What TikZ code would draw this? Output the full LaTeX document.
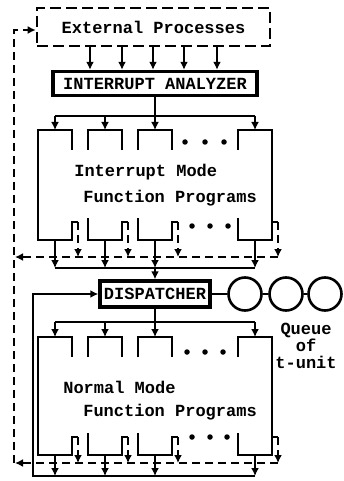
\documentclass[tikz,border=0pt]{standalone}
\usepackage{fontspec}
\setmonofont{Liberation Mono}
\usetikzlibrary{arrows.meta}
\tikzset{sc/.style={x=1pt,y=-1pt,line width=2.6pt,font=\ttfamily\bfseries\fontsize{17}{17}\selectfont},
  arr/.style={-{Latex[length=8pt,width=8pt]}},
  dsh/.style={dash pattern=on 8pt off 5pt},
  bx/.style={draw,line width=3.4pt,inner sep=0pt,minimum height=24pt},
  lbl/.style={inner sep=0pt,anchor=west},
  dotn/.style={circle,fill,inner sep=0pt,minimum size=5.5pt},
  que/.style={circle,draw,inner sep=0pt,minimum size=33pt}}
\begin{document}
\begin{tikzpicture}[sc]
  \useasboundingbox (0,0) rectangle (344,481);
  \node[draw,dash pattern=on 11pt off 5pt,minimum width=233pt,minimum height=38pt,inner sep=0pt] (ext) at (153.5,27){External Processes};
  \node[bx,minimum width=204pt] (ia) at (155,83.5){INTERRUPT ANALYZER};
  \foreach \x in {90,122,153,184,217}\draw[arr] (ext.south -| \x,0)--(ia.north -| \x,0);
  % interrupt mode programs
  \foreach \l/\r [count=\i] in {38/72,88/122,138/172,238/272}{
    \coordinate (it\i) at ({(\l+\r)/2},130); \coordinate (ib\i) at ({(\l+\r)/2},240);
    \draw (\l,150)--(\l,130)--(\r,130)--(\r,150);
    \draw (\l,218)--(\l,240)--(\r,240)--(\r,222)--++(6,0) coordinate (ih\i);}
  \draw (38,150)--(38,218) (272,150)--(272,222);
  \foreach \x in {185,205,224}\node[dotn] (itd\x) at (\x,142){};
  \foreach \x in {192,210,228}\node[dotn] (ibd\x) at (\x,226){};
  \node[lbl] (imode) at (73,172){Interrupt Mode};
  \node[lbl] (ifunc) at (82,198){Function Programs};
  \coordinate (ibus) at (ia.south |- 0,116);
  \draw (ia.south)--(ibus) (it1 |- ibus)--(it4 |- ibus);
  \foreach \i in {1,...,4}\draw[arr] (it\i |- ibus)--(it\i);
  % dispatcher and queue
  \node[bx,minimum width=110pt,minimum height=26pt] (dp) at (155,294){DISPATCHER};
  \coordinate (dbus) at (dp.north |- 0,268);
  \draw (ib1 |- dbus)--(ib4 |- dbus);
  \foreach \i in {1,...,4}\draw[arr] (ib\i)--(ib\i |- dbus);
  \draw[arr] (dbus)--(dp.north);
  \node[que] (q1) at (245,294){}; \node[que] (q2) at (286,294){}; \node[que] (q3) at (325,294){};
  \draw (dp)--(q1) (q1)--(q2) (q2)--(q3);
  \node[align=center,inner sep=0pt] (qlbl) at (306,346){Queue\\of\\t-unit};
  % normal mode programs
  \coordinate (nbusT) at (dp.south |- 0,322);
  \draw (dp.south)--(nbusT);
  \foreach \l/\r [count=\i] in {38/72,88/122,138/172,238/272}{
    \coordinate (nt\i) at ({(\l+\r)/2},337); \coordinate (nb\i) at ({(\l+\r)/2},455);
    \draw (\l,357)--(\l,337)--(\r,337)--(\r,357);
    \draw (\l,433)--(\l,455)--(\r,455)--(\r,437)--++(6,0) coordinate (nh\i);}
  \draw (38,357)--(38,433) (272,357)--(272,437);
  \draw (nt1 |- nbusT)--(nt4 |- nbusT);
  \foreach \i in {1,...,4}\draw[arr] (nt\i |- nbusT)--(nt\i);
  \foreach \x in {187,205,223}\node[dotn] (ntd\x) at (\x,352){};
  \foreach \x in {192,210,227}\node[dotn] (nbd\x) at (\x,437){};
  \node[lbl] (nmode) at (62,387){Normal Mode};
  \node[lbl] (nfunc) at (82,412){Function Programs};
  \coordinate (nbus) at (33,476);
  \foreach \i in {1,...,4}\draw[arr] (nb\i)--(nb\i |- nbus);
  \draw[arr] (nb4 |- nbus)--(nbus)|-(dp.west);
  % dashed returns to the external processes
  \coordinate (iret) at (15,257); \coordinate (nret) at (15,463);
  \foreach \i in {1,...,4}\draw[dsh,arr] (ih\i)--(ih\i |- iret);
  \draw[dsh,arr] (ih4 |- iret)--(iret);
  \foreach \i in {1,...,4}\draw[dsh,arr] (nh\i)--(nh\i |- nret);
  \draw[dsh,arr] (nh4 |- nret)--(nret);
  \coordinate (lbot) at (14,463); \coordinate (ltop) at (14,30);
  \draw[dsh,arr] (lbot)--(ltop)--(ext.west |- ltop);
\end{tikzpicture}
\end{document}
